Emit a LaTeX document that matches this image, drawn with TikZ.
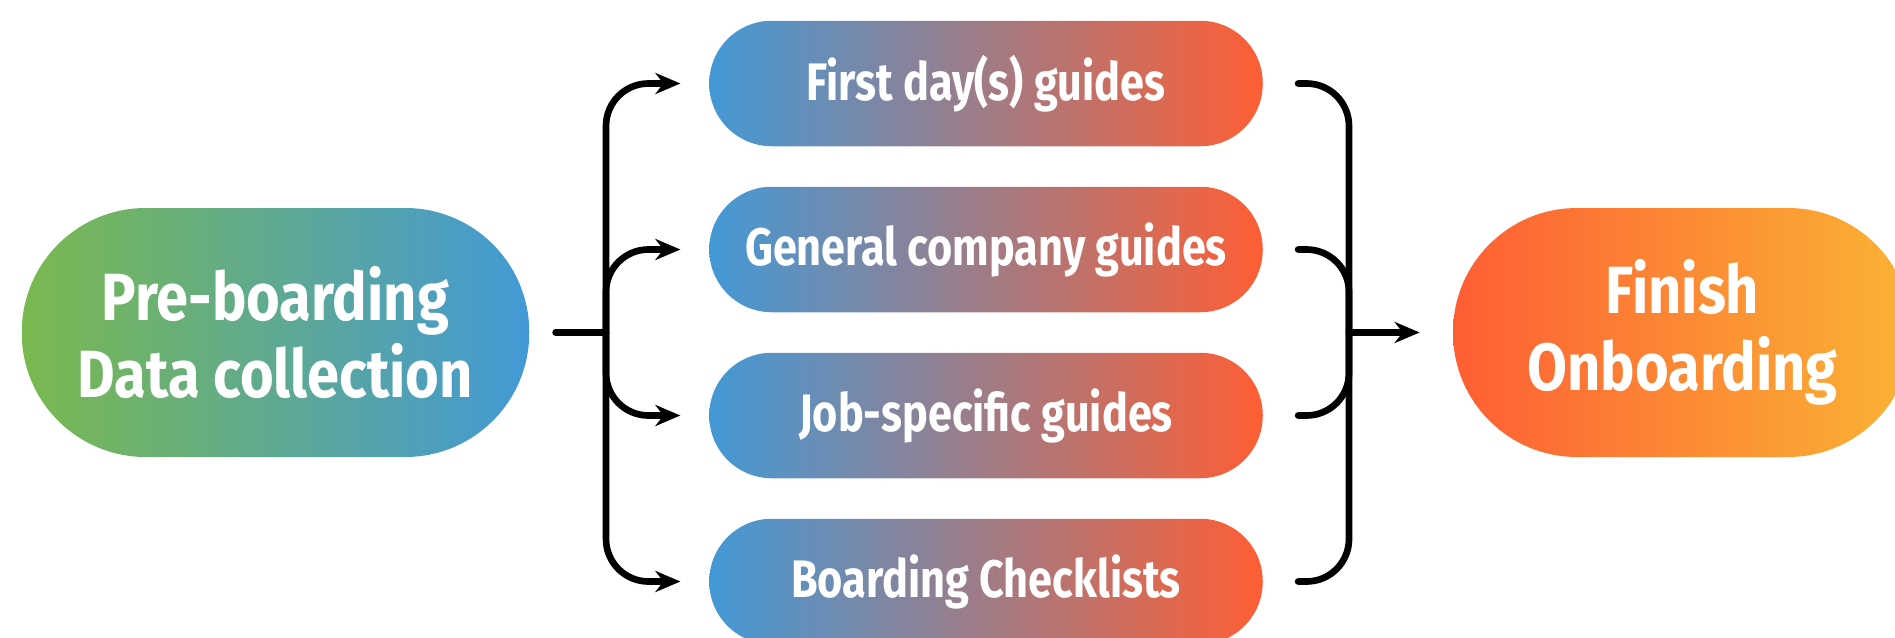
\documentclass[tikz,border=0pt]{standalone}
\usepackage{fontspec}
\setmainfont{Fira Sans}
\newfontfamily\pillfont{Fira Sans}[FakeStretch=0.865]
\newfontfamily\guidefont{Fira Sans}[FakeStretch=0.82]
\usetikzlibrary{arrows.meta}

\definecolor{startgreen}{RGB}{122,185,78}
\definecolor{guideblue}{RGB}{67,153,214}
\definecolor{guidered}{RGB}{254,94,52}
\definecolor{finishyellow}{RGB}{250,180,52}

\begin{document}
\begin{tikzpicture}[
			every node/.style={text=white, align=center},
			bigpill/.style={rounded corners=2.48cm, minimum width=10.15cm, minimum height=4.98cm, font=\pillfont\bfseries\fontsize{38}{44}\selectfont},
			guide/.style={rounded corners=1.25cm, minimum width=11.07cm, minimum height=2.51cm, left color=guideblue, right color=guidered, font=\guidefont\bfseries\fontsize{30}{36}\selectfont},
			link/.style={line width=3.8pt, line cap=round, rounded corners=0.85cm},
			arrow/.style={link, -{Stealth[length=5mm, width=4.2mm, inset=1.6mm]}},
			]
			
			\useasboundingbox (0,0) rectangle (37.9,-12.76);
			
			\node[bigpill, left color=startgreen, right color=guideblue] (pre) at (5.51,-6.65) {Pre-boarding\\Data collection};
			
			\node[guide] (g1) at (19.72,-1.67) {First day(s) guides};
			\node[guide] (g2) at (19.72,-4.99) {General company guides};
			\node[guide] (g3) at (19.72,-8.31) {Job-specific guides};
			\node[guide] (g4) at (19.72,-11.63) {Boarding Checklists};
			
			\node[bigpill, minimum width=9.18cm, left color=guidered, right color=finishyellow] (finish) at (33.65,-6.65) {Finish\\Onboarding};
			
			\coordinate (split) at (12.12,-6.65);
			\coordinate (merge) at (26.98,-6.65);
			
			\draw[link, shorten <=0.52cm] (pre) -- (split);
			\foreach \g in {g1,g2,g3,g4}
				\draw[arrow, shorten >=0.57cm] (split) |- (\g.west);
			
			\foreach \g in {g1,g2,g3,g4}
				\draw[link, shorten <=0.7cm] (\g.east) -| (merge);
			\draw[arrow, shorten >=0.66cm] (merge) -- (finish);
			
		\end{tikzpicture}
\end{document}
